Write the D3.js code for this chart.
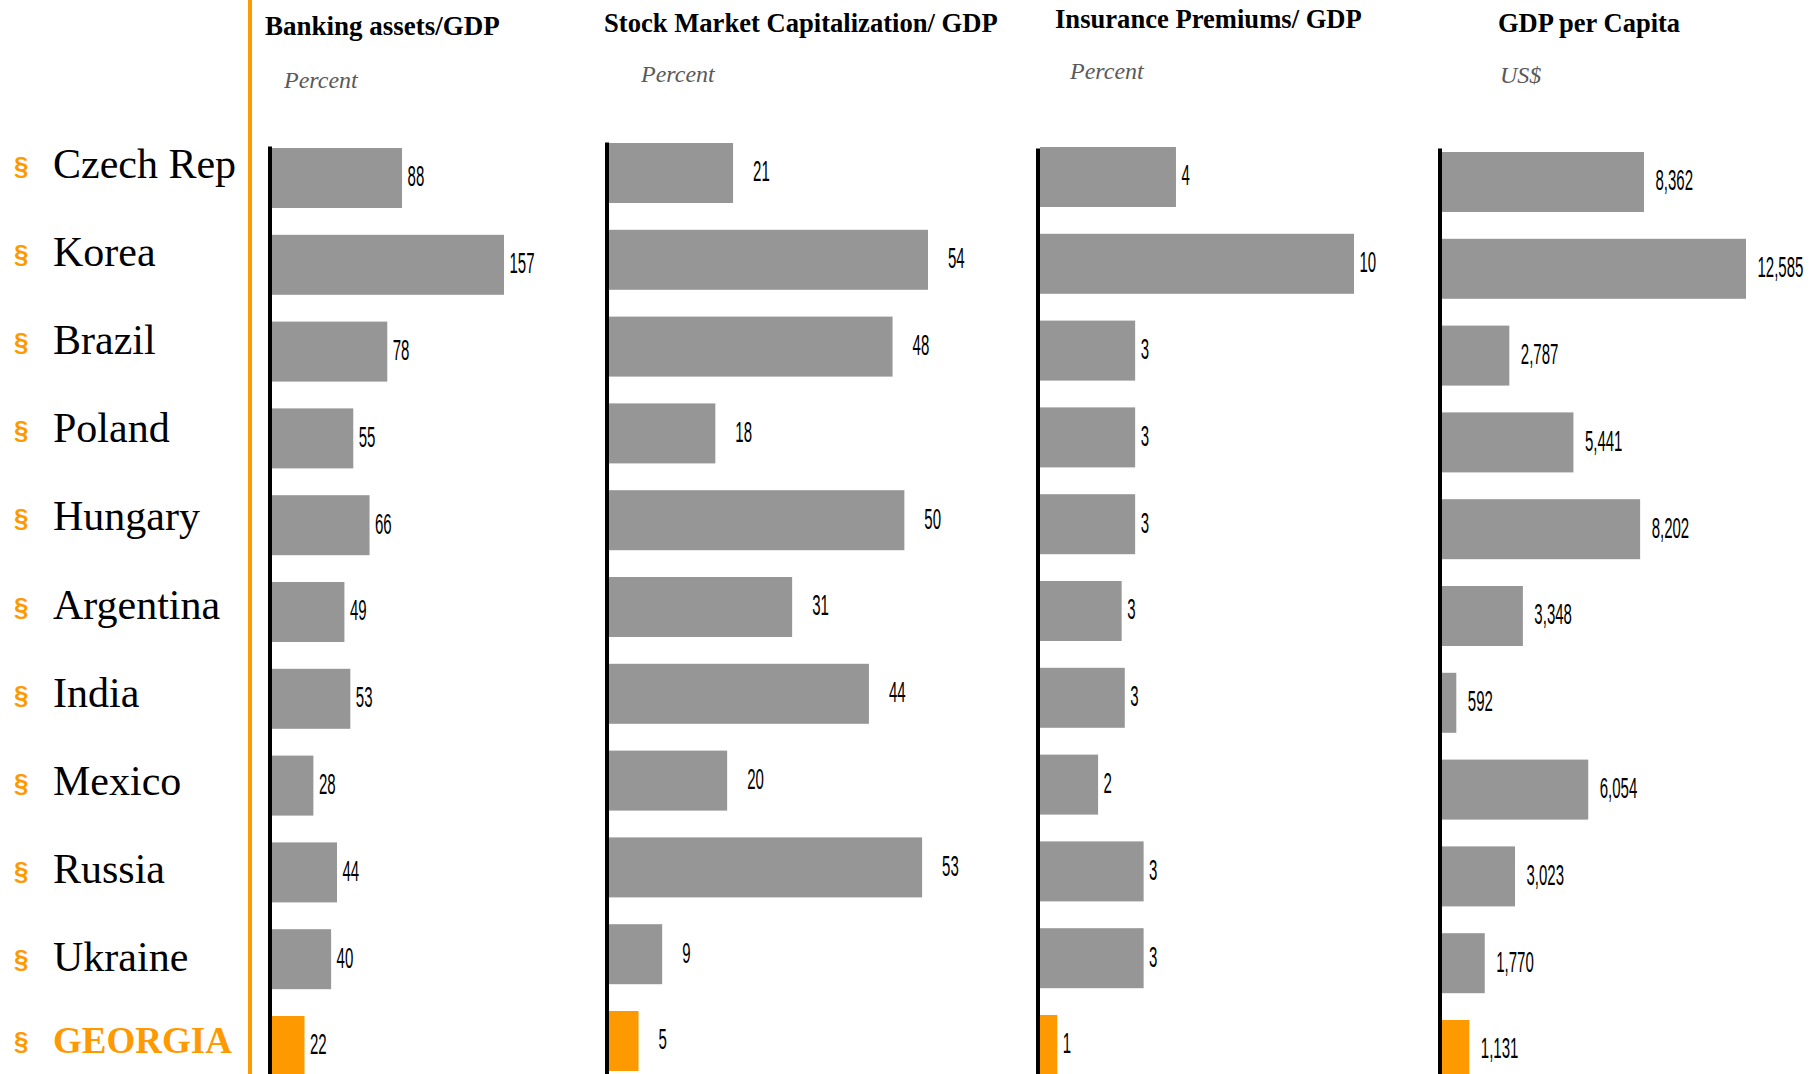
<!DOCTYPE html>
<html>
<head>
<meta charset="utf-8">
<script src="https://cdn.jsdelivr.net/npm/d3@7"></script>
<style>
  html, body { margin: 0; padding: 0; background: #ffffff; overflow: hidden; }
  svg { display: block; }
</style>
</head>
<body>
<svg id="chart" width="1818" height="1074"></svg>
<script>
// ---------------- DATA ----------------
const countries = ["Czech Rep", "Korea", "Brazil", "Poland", "Hungary", "Argentina",
                   "India", "Mexico", "Russia", "Ukraine", "GEORGIA"];
const highlightCountry = "GEORGIA";

const bankingAssets     = [88, 157, 78, 55, 66, 49, 53, 28, 44, 40, 22];          // percent of GDP
const stockMarketCap    = [21, 54, 48, 18, 50, 31, 44, 20, 53, 9, 5];             // percent of GDP
const insurancePremiums = [4.33, 10, 3.03, 3.03, 3.03, 2.6, 2.7, 1.85, 3.3, 3.3, 0.55]; // percent of GDP
const gdpPerCapita      = [8362, 12585, 2787, 5441, 8202, 3348, 592, 6054, 3023, 1770, 1131]; // US$

const panelTitles = ["Banking assets/GDP", "Stock Market Capitalization/ GDP",
                     "Insurance Premiums/ GDP", "GDP per Capita"];
const panelUnits  = ["Percent", "Percent", "Percent", "US$"];

// ---------------- LAYOUT ----------------
const W = 1818, H = 1074;
const ORANGE = "#FF9900", GREY = "#969696";
const svg = d3.select("#chart");
svg.append("rect").attr("width", W).attr("height", H).attr("fill", "#fff");

const seriesList = [bankingAssets, stockMarketCap, insurancePremiums, gdpPerCapita];
const panelLayout = [
  { x0: 272,  x1: 504,  barTop: 148, axisTop: 146, titleX: 265,  titleY: 35, titleSize: 27,   unitX: 284,  unitY: 88, gap: 5.5 },
  { x0: 609,  x1: 928,  barTop: 143, axisTop: 142, titleX: 604,  titleY: 32, titleSize: 26.6, unitX: 641,  unitY: 82, gap: 20 },
  { x0: 1040, x1: 1354, barTop: 147, axisTop: 148, titleX: 1055, titleY: 28, titleSize: 26.6, unitX: 1070, unitY: 79, gap: 5.5 },
  { x0: 1442, x1: 1746, barTop: 152, axisTop: 148, titleX: 1498, titleY: 32, titleSize: 26.5, unitX: 1500, unitY: 83, gap: 11.5 }
];
const STEP = 86.8, BAR_H = 60;
const padInner = 1 - BAR_H / STEP;
const bandLen = STEP * (countries.length - padInner);
const fmt = d3.format(",.0f");

// Orange separator line
svg.append("line")
  .attr("x1", 250).attr("x2", 250).attr("y1", 0).attr("y2", H)
  .attr("stroke", ORANGE).attr("stroke-width", 4);

// Country labels
const labelY = d3.scalePoint().domain(countries).range([178, 1059]);
const lab = svg.append("g").attr("class", "country-labels");
countries.forEach(c => {
  const hl = c === highlightCountry;
  const base = labelY(c) - (hl ? 6 : 0);
  lab.append("text")
    .attr("x", 14).attr("y", base - 3)
    .attr("font-family", "'Liberation Sans', Arial, sans-serif")
    .attr("font-size", 26)
    .attr("font-weight", "bold")
    .attr("fill", ORANGE)
    .text("§");
  lab.append("text")
    .attr("x", 53).attr("y", base)
    .attr("font-family", "'Liberation Serif', 'Times New Roman', serif")
    .attr("font-size", hl ? 37 : 42)
    .attr("font-weight", hl ? "bold" : "normal")
    .attr("fill", hl ? ORANGE : "#000")
    .text(c);
});

// Panels
seriesList.forEach((values, i) => {
  const L = panelLayout[i];
  const g = svg.append("g").attr("class", "panel-" + i);
  const x = d3.scaleLinear().domain([0, d3.max(values)]).range([L.x0, L.x1]);
  const y = d3.scaleBand().domain(countries)
    .range([L.barTop, L.barTop + bandLen])
    .paddingInner(padInner).paddingOuter(0);

  // titles
  g.append("text")
    .attr("x", L.titleX).attr("y", L.titleY)
    .attr("font-family", "'Liberation Serif', 'Times New Roman', serif")
    .attr("font-weight", "bold").attr("font-size", L.titleSize)
    .attr("fill", "#000")
    .text(panelTitles[i]);
  g.append("text")
    .attr("x", L.unitX).attr("y", L.unitY)
    .attr("font-family", "'Liberation Serif', 'Times New Roman', serif")
    .attr("font-style", "italic").attr("font-size", 24)
    .attr("fill", "#595959")
    .text(panelUnits[i]);

  // bars
  const rows = countries.map((c, k) => ({ c, v: values[k] }));
  g.selectAll("rect.bar").data(rows).join("rect")
    .attr("class", "bar")
    .attr("x", x(0))
    .attr("y", d => y(d.c))
    .attr("width", d => x(d.v) - x(0))
    .attr("height", y.bandwidth())
    .attr("fill", d => d.c === highlightCountry ? ORANGE : GREY);

  // value labels (condensed)
  g.selectAll("text.val").data(rows).join("text")
    .attr("class", "val")
    .attr("transform", d => `translate(${x(d.v) + L.gap},${y(d.c) + y.bandwidth() / 2}) scale(0.5,1)`)
    .attr("dy", "0.28em")
    .attr("font-family", "'Liberation Sans', Arial, sans-serif")
    .attr("font-size", 30)
    .attr("fill", "#000")
    .text(d => fmt(d.v));

  // vertical axis line (no ticks)
  const yAxisScale = d3.scaleLinear().domain([0, 1]).range([L.axisTop, H]);
  const axis = d3.axisLeft(yAxisScale).tickValues([]).tickSizeOuter(0);
  const ag = g.append("g").attr("transform", `translate(${L.x0 - 2.5},0)`).call(axis);
  ag.select(".domain").attr("stroke", "#000").attr("stroke-width", 4);
});
</script>
</body>
</html>
